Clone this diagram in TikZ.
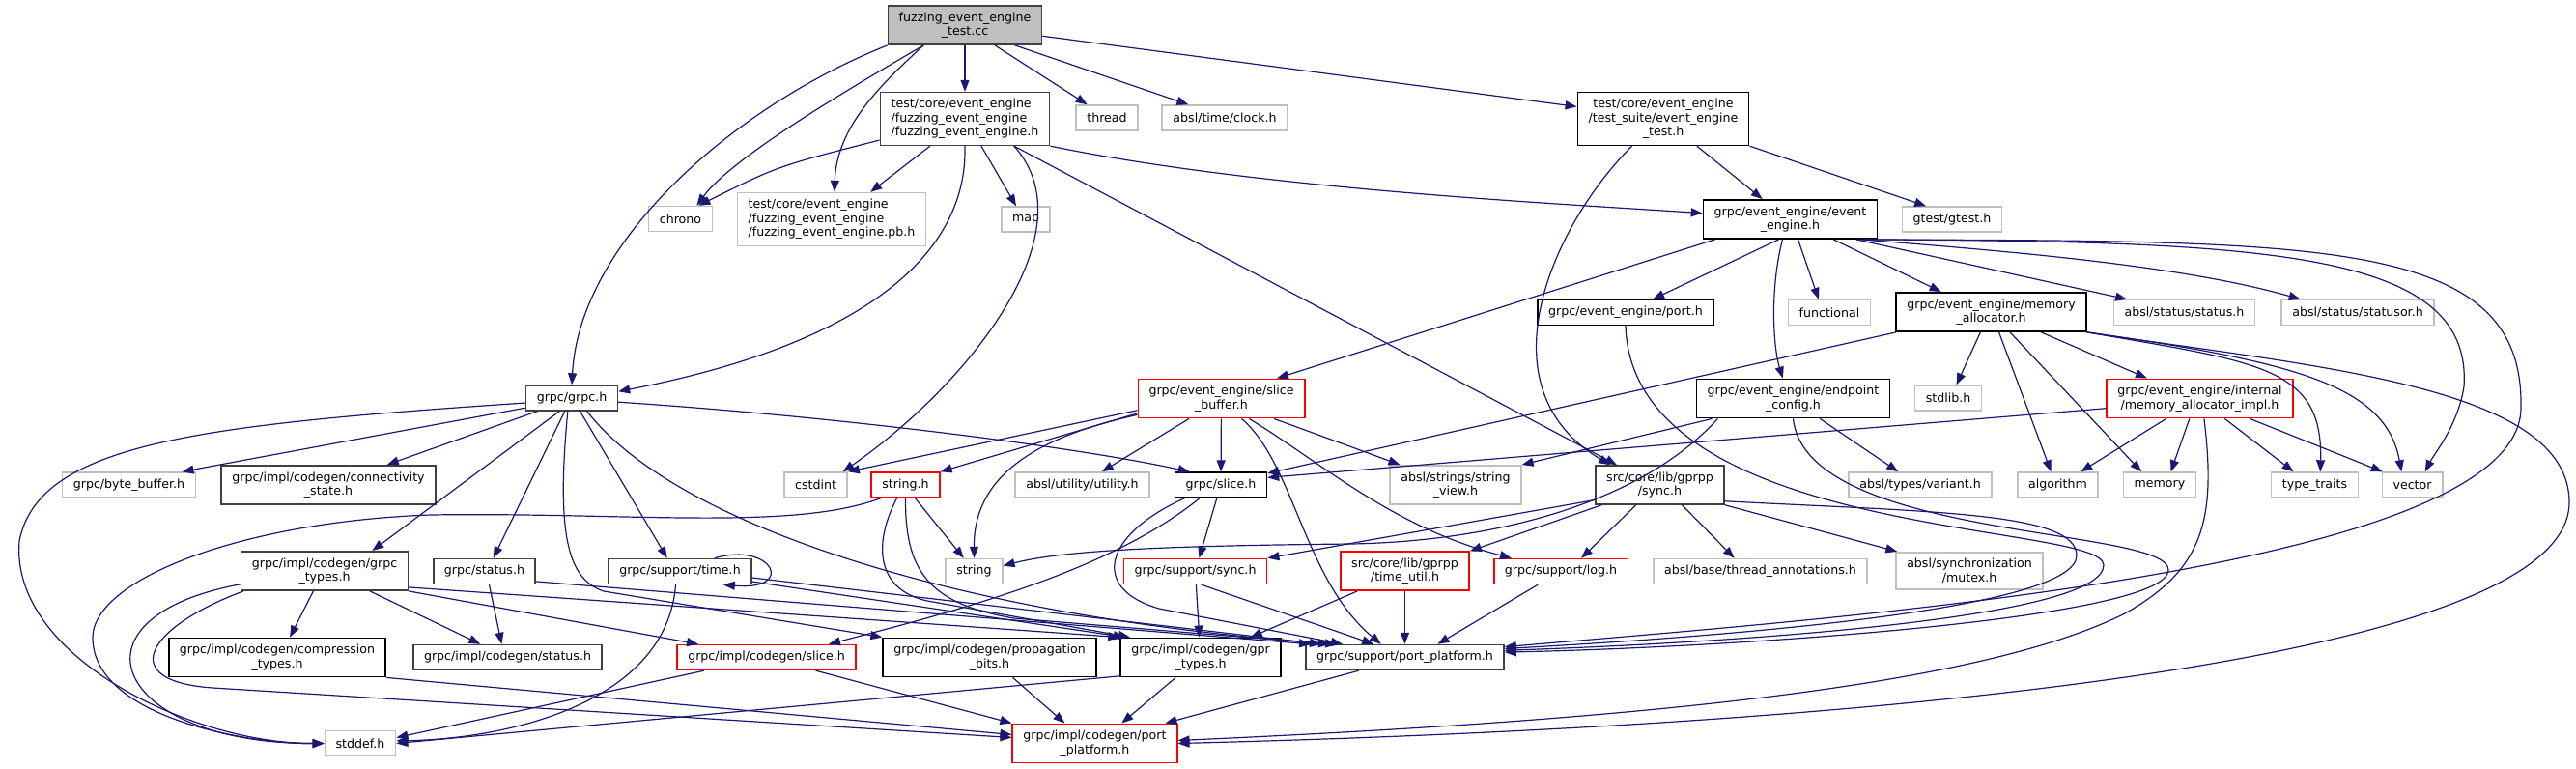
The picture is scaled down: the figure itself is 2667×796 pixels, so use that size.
\documentclass[tikz,border=0pt]{standalone}
\usepackage{fontspec}
\setmainfont{DejaVu Sans}
\usetikzlibrary{arrows.meta}
\definecolor{edgeblue}{HTML}{191970}
\definecolor{extgray}{HTML}{BFBFBF}
\definecolor{docgray}{HTML}{404040}

\begin{document}
\begin{tikzpicture}[x=0.5pt,y=-0.5pt,
    box/.style={draw, line width=0.8pt, inner xsep=5.6pt, inner ysep=3.3pt,
      minimum height=12.9pt, font=\fontsize{6.3}{7.25}\selectfont, align=center},
    doc/.style={box, draw=black},
    dark/.style={box, draw=docgray},
    ext/.style={box, draw=extgray},
    trunc/.style={box, draw=red},
    rootfile/.style={box, draw=docgray, fill=extgray},
    incl/.style={draw=edgeblue, line width=0.6pt, -{Triangle[length=6pt,width=4.5pt]}}]
    \useasboundingbox (0,0) rectangle (2667,796);

    % Row 0-1: the test file and its direct includes
    \node[rootfile] (root) at (999,26) {fuzzing\_event\_engine\\\_test.cc};
    \node[dark, align=left] (feeh) at (999,123) {test/core/event\_engine\\/fuzzing\_event\_engine\\/fuzzing\_event\_engine.h};
    \node[ext] (thread) at (1146,122) {thread};
    \node[ext] (clock) at (1268,122) {absl/time/clock.h};
    \node[doc] (suite) at (1722,123) {test/core/event\_engine\\/test\_suite/event\_engine\\\_test.h};

    % Row 2-3
    \node[ext] (chrono) at (704.5,226.5) {chrono};
    \node[ext, align=left] (pb) at (861,227) {test/core/event\_engine\\/fuzzing\_event\_engine\\/fuzzing\_event\_engine.pb.h};
    \node[ext] (map) at (1062,227) {map};
    \node[doc] (evh) at (1853.5,227) {grpc/event\_engine/event\\\_engine.h};
    \node[ext] (gtest) at (2021,227) {gtest/gtest.h};
    \node[doc] (port) at (1683,323.5) {grpc/event\_engine/port.h};
    \node[ext] (functional) at (1894,323.5) {functional};
    \node[doc] (memalloc) at (2061.5,323) {grpc/event\_engine/memory\\\_allocator.h};
    \node[ext] (abslstatus) at (2261.5,323.5) {absl/status/status.h};
    \node[ext] (statusor) at (2441,323.5) {absl/status/statusor.h};

    % Row 4
    \node[dark] (grpch) at (592,412) {grpc/grpc.h};
    \node[trunc] (slicebuf) at (1264.5,412.5) {grpc/event\_engine/slice\\\_buffer.h};
    \node[doc] (endpoint) at (1856.5,412.5) {grpc/event\_engine/endpoint\\\_config.h};
    \node[ext] (stdlib) at (2017,412) {stdlib.h};
    \node[trunc] (memimpl) at (2277.5,412.5) {grpc/event\_engine/internal\\/memory\_allocator\_impl.h};

    % Row 5
    \node[ext] (bytebuf) at (133.5,502) {grpc/byte\_buffer.h};
    \node[dark] (connstate) at (340,502) {grpc/impl/codegen/connectivity\\\_state.h};
    \node[ext] (cstdint) at (844.5,502) {cstdint};
    \node[trunc] (stringh) at (937.5,502) {string.h};
    \node[ext] (utility) at (1120.5,502) {absl/utility/utility.h};
    \node[doc] (slice) at (1264,502) {grpc/slice.h};
    \node[ext] (stringview) at (1507,502) {absl/strings/string\\\_view.h};
    \node[dark] (gsync) at (1718.5,502) {src/core/lib/gprpp\\/sync.h};
    \node[ext] (variant) at (1988,502) {absl/types/variant.h};
    \node[ext] (algorithm) at (2130.5,502) {algorithm};
    \node[ext] (memory) at (2236,502) {memory};
    \node[ext] (typetraits) at (2396.5,502) {type\_traits};
    \node[ext] (vector) at (2497.5,502) {vector};

    % Row 6
    \node[dark] (grpctypes) at (336,591) {grpc/impl/codegen/grpc\\\_types.h};
    \node[dark] (gstatus) at (501.5,591.5) {grpc/status.h};
    \node[dark] (time) at (704,591.5) {grpc/support/time.h};
    \node[ext] (string) at (1008.5,591.5) {string};
    \node[trunc] (ssync) at (1237.5,591.5) {grpc/support/sync.h};
    \node[trunc] (timeutil) at (1454.5,591) {src/core/lib/gprpp\\/time\_util.h};
    \node[trunc] (log) at (1616,591.5) {grpc/support/log.h};
    \node[ext] (annot) at (1822.5,591.5) {absl/base/thread\_annotations.h};
    \node[ext] (mutex) at (2039,591) {absl/synchronization\\/mutex.h};

    % Row 7-8
    \node[doc] (compression) at (287,680.5) {grpc/impl/codegen/compression\\\_types.h};
    \node[dark] (cstatus) at (525.5,680.5) {grpc/impl/codegen/status.h};
    \node[trunc] (cslice) at (793.5,680.5) {grpc/impl/codegen/slice.h};
    \node[doc] (propagation) at (1024.5,680.5) {grpc/impl/codegen/propagation\\\_bits.h};
    \node[doc] (gprtypes) at (1243,680.5) {grpc/impl/codegen/gpr\\\_types.h};
    \node[dark] (sport) at (1454.5,680.5) {grpc/support/port\_platform.h};
    \node[ext] (stddef) at (373,769.5) {stddef.h};
    \node[trunc] (cport) at (1133.5,769.5) {grpc/impl/codegen/port\\\_platform.h};

    % includes of the test file
    \draw[incl] (root) -- (feeh);
    \draw[incl] (root.-34) -- (thread.146);
    \draw[incl] (root.-22) -- (clock.160);
    \draw[incl] (root.-8) -- (suite.172);
    \draw[incl] (root.-154) .. controls (900,80) and (760,160) .. (chrono.39);
    \draw[incl] (root.-154) .. controls (915,85) and (866,130) .. (pb.84);
    \draw[incl] (root.south west) .. controls (760,110) and (600,250) .. (grpch.north);

    % fuzzing_event_engine.h
    \draw[incl] (feeh.-166) .. controls (805,172) .. (chrono.36);
    \draw[incl] (feeh.-142) -- (pb.35);
    \draw[incl] (feeh.-59) -- (map.126);
    \draw[incl] (feeh.south) .. controls (1002,260) and (900,355) .. (grpch.8);
    \draw[incl] (feeh.-29) .. controls (1130,240) and (1000,400) .. (cstdint.26);
    \draw[incl] (feeh.south east) .. controls (1300,195) and (1600,210) .. (evh.176);
    \draw[incl] (feeh.-29) -- (gsync.155);

    % event_engine_test.h
    \draw[incl] (suite.-39) -- (evh.144);
    \draw[incl] (suite.south east) -- (gtest.153);
    \draw[incl] (suite.-139) .. controls (1610,230) and (1530,400) .. (gsync.158);

    % event_engine.h
    \draw[incl] (evh.-165) -- (slicebuf.20);
    \draw[incl] (evh.-120) -- (port.26);
    \draw[incl] (evh.-111) .. controls (1832,300) and (1836,360) .. (endpoint.117);
    \draw[incl] (evh.-69) -- (functional.129);
    \draw[incl] (evh.-25) -- (memalloc.158);
    \draw[incl] (evh.-17) -- (abslstatus.167);
    \draw[incl] (evh.-16) .. controls (2080,260) and (2260,275) .. (statusor.167);
    \draw[incl] (evh.-15) .. controls (2350,250) and (2560,260) .. (2551,400)
        .. controls (2545,440) and (2520,470) .. (vector.46);
    \draw[incl] (evh.-15) .. controls (2400,250) and (2612,245) .. (2610,420)
        .. controls (2615,590) and (1900,640) .. (sport.6);

    % memory_allocator.h
    \draw[incl] (memalloc.-168) -- (slice.14);
    \draw[incl] (memalloc.-118) -- (stdlib.58);
    \draw[incl] (memalloc.-69) -- (algorithm.117);
    \draw[incl] (memalloc.-47) -- (memory.144);
    \draw[incl] (memalloc.-22) -- (memimpl.159);
    \draw[incl] (memalloc.south east) .. controls (2340,375) and (2405,380) .. (typetraits.67);
    \draw[incl] (memalloc.south east) .. controls (2380,375) and (2470,400) .. (vector.129);
    \draw[incl] (memalloc.south east) .. controls (2400,380) and (2660,400) .. (2660,520)
        .. controls (2660,700) and (1800,755) .. (cport.east);

    % memory_allocator_impl.h
    \draw[incl] (memimpl.-149) -- (algorithm.30);
    \draw[incl] (memimpl.-117) -- (memory.50);
    \draw[incl] (memimpl.-39) -- (typetraits.148);
    \draw[incl] (memimpl.-22) -- (vector.156);
    \draw[incl] (memimpl.-174) -- (slice.9);
    \draw[incl] (memimpl.-78) .. controls (2295,540) and (2280,590) .. (2200,635)
        .. controls (2050,710) and (1700,745) .. (cport.2);

    % endpoint_config.h and port.h
    \draw[incl] (endpoint.-166) -- (stringview.north east);
    \draw[incl] (endpoint.-37) -- (variant.149);
    \draw[incl] (endpoint.south) .. controls (1870,560) and (2245,545) .. (2245,590)
        .. controls (2245,640) and (1800,670) .. (sport.3);
    \draw[incl] (endpoint.-165) .. controls (1700,520) and (1550,560) .. (1400,563)
        .. controls (1200,565) and (1100,570) .. (string.11);
    \draw[incl] (port.south) .. controls (1690,560) and (2178,540) .. (2178,585)
        .. controls (2178,640) and (1800,665) .. (sport.4);

    % gprpp/sync.h
    \draw[incl] (gsync.-14) .. controls (2000,530) and (2150,530) .. (2150,575)
        .. controls (2150,630) and (1800,658) .. (sport.5);
    \draw[incl] (gsync.south east) -- (mutex.165);
    \draw[incl] (gsync.-42) -- (annot.153);
    \draw[incl] (gsync.-140) -- (log.33);
    \draw[incl] (gsync.-161) -- (timeutil.17);
    \draw[incl] (gsync.-167) -- (ssync.north east);

    % slice_buffer.h
    \draw[incl] (slicebuf) -- (slice);
    \draw[incl] (slicebuf.-148) -- (utility.34);
    \draw[incl] (slicebuf.-21) -- (stringview.160);
    \draw[incl] (slicebuf.-36) .. controls (1370,480) and (1440,545) .. (log.165);
    \draw[incl] (slicebuf.-45) .. controls (1340,480) and (1350,600) .. (sport.151);
    \draw[incl] (slicebuf.-169) .. controls (1060,455) and (1008,500) .. (string.north);
    \draw[incl] (slicebuf.-170) -- (stringh.north east);
    \draw[incl] (slicebuf.-172) -- (cstdint.north east);

    % string.h
    \draw[incl] (stringh.-54) -- (string.128);
    \draw[incl] (stringh.-152) .. controls (820,550) and (650,530) .. (446,533)
        .. controls (250,540) and (96,600) .. (96,660)
        .. controls (96,740) and (250,770) .. (stddef.west);
    \draw[incl] (stringh.-123) .. controls (905,560) and (905,610) .. (960,622) -- (gprtypes.164);
    \draw[incl] (stringh.south) .. controls (937,590) and (960,625) .. (1050,640) -- (sport.170);

    % grpc.h
    \draw[incl] (grpch.-174) .. controls (200,440) and (40,460) .. (20,560)
        .. controls (10,680) and (200,770) .. (stddef.west);
    \draw[incl] (grpch.-168) -- (bytebuf.14);
    \draw[incl] (grpch.-159) -- (connstate.19);
    \draw[incl] (grpch.-133) -- (grpctypes.23);
    \draw[incl] (grpch.-118) -- (gstatus.56);
    \draw[incl] (grpch.-58) -- (time.134);
    \draw[incl] (grpch.-5) .. controls (850,430) and (1100,460) .. (slice.157);
    \draw[incl] (grpch.-41) .. controls (700,545) and (1000,640) .. (sport.169);
    \draw[incl] (grpch.-107) .. controls (575,560) and (590,600) .. (625,612) -- (propagation.north west);

    % grpc_types.h, status.h, time.h
    \draw[incl] (grpctypes.-171) .. controls (60,640) and (120,770) .. (stddef.west);
    \draw[incl] (grpctypes.-166) .. controls (150,650) and (120,705) .. (220,712) -- (cport.176);
    \draw[incl] (grpctypes.-119) -- (compression.58);
    \draw[incl] (grpctypes.-24) -- (cstatus.154);
    \draw[incl] (grpctypes.south east) -- (cslice.169);
    \draw[incl] (grpctypes.-11) -- (gprtypes.north west);
    \draw[incl] (gstatus.-70) -- (cstatus.114);
    \draw[incl] (gstatus.-11) -- (sport.172);
    \draw[incl] (time.21) .. controls (800,560) and (825,612) .. (time.-17); % self loop
    \draw[incl] (time.-108) .. controls (690,730) and (520,765) .. (stddef.4);
    \draw[incl] (time.-8) -- (gprtypes.165);
    \draw[incl] (time.-5) -- (sport.171);

    % codegen headers
    \draw[incl] (compression.south east) -- (cport.174);
    \draw[incl] (cslice.-168) -- (stddef.9);
    \draw[incl] (cslice.-15) -- (cport.north west);
    \draw[incl] (propagation.-41) -- (cport.146);
    \draw[incl] (gprtypes.-141) -- (cport.37);
    \draw[incl] (gprtypes.-167) -- (stddef.east);
    \draw[incl] (sport.-164) -- (cport.16);

    % slice.h, support/sync.h, time_util.h, log.h
    \draw[incl] (slice.-107) -- (ssync.74);
    \draw[incl] (slice.-148) .. controls (1150,590) and (1000,630) .. (cslice.12);
    \draw[incl] (slice.-160) .. controls (1140,555) and (1130,610) .. (1200,630) -- (sport.168);
    \draw[incl] (ssync) -- (gprtypes);
    \draw[incl] (ssync.-66) -- (sport.157);
    \draw[incl] (timeutil.-157) -- (gprtypes.22);
    \draw[incl] (timeutil) -- (sport);
    \draw[incl] (log.-150) -- (sport.22);
\end{tikzpicture}
\end{document}
